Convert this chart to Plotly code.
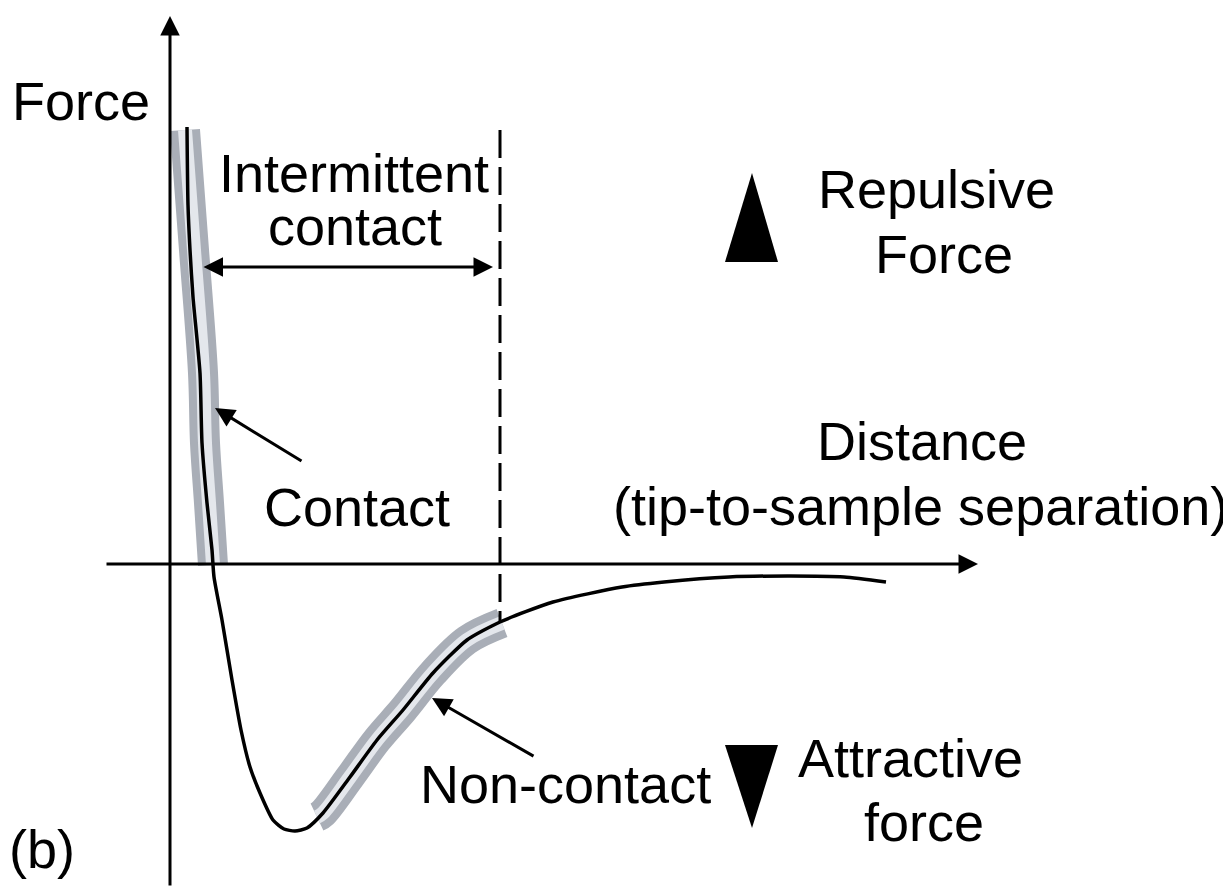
import plotly.graph_objects as go

# tip-sample distance vs force (origin at the axis crossing)
curve_d = [17, 18, 20, 23, 30, 32, 37, 42, 44, 52, 62, 71, 80, 90, 103, 114, 125, 137,
           153, 180, 207, 233, 263, 297, 330, 383, 452, 494, 559, 620, 674, 716]
curve_f = [437, 359, 314, 267, 191, 121, 61, 14, -13, -56, -116, -166, -203, -229, -256, -265, -267, -264,
           -249, -213, -176, -146, -109, -76, -58, -38, -23, -18, -13, -12, -13, -18]

# highlighted regimes
contact_d = [15, 24, 33, 35, 39, 43]
contact_f = [434, 314, 191, 121, 61, -1]
noncontact_d = [147, 153, 180, 207, 233, 263, 297, 332]
noncontact_f = [-253, -249, -213, -176, -146, -109, -76, -59]

# intermittent contact limit
limit_d = [330, 330]
limit_f = [434, -58]

BAND_GREY = '#a9aeb7'
BAND_LIGHT = '#e4e7ec'
FONT = dict(family='Liberation Sans, Arial, sans-serif', size=54, color='black')

fig = go.Figure()
for bd, bf in [(contact_d, contact_f), (noncontact_d, noncontact_f)]:
    fig.add_trace(go.Scatter(x=bd, y=bf, mode='lines', line=dict(color=BAND_GREY, width=30, shape='spline'), hoverinfo='skip'))
    fig.add_trace(go.Scatter(x=bd, y=bf, mode='lines', line=dict(color=BAND_LIGHT, width=14, shape='spline'), hoverinfo='skip'))
fig.add_trace(go.Scatter(x=limit_d, y=limit_f, mode='lines', line=dict(color='black', width=3, dash='28px,9px'), hoverinfo='skip'))
fig.add_trace(go.Scatter(x=curve_d, y=curve_f, mode='lines', line=dict(color='black', width=3.5, shape='spline', smoothing=0.6)))

# axes with arrowheads, double arrow, pointer arrows
arrows = [
    dict(x=0, y=548, ax=0, ay=-323),
    dict(x=808, y=0, ax=-65, ay=0),
    dict(x=323, y=297, ax=32, ay=297, arrowside='end+start'),
    dict(x=45, y=156, ax=133, ay=102),
    dict(x=262, y=-134, ax=365, ay=-193),
]
for a in arrows:
    fig.add_annotation(**a, xref='x', yref='y', axref='x', ayref='y', text='', showarrow=True,
                       arrowhead=2, arrowsize=1.3, arrowwidth=3, arrowcolor='black')

labels = [
    ('Force', -89, 463), ('Intermittent', 184, 391), ('contact', 185, 338),
    ('Repulsive', 766, 375), ('Force', 774, 310),
    ('Distance', 752, 123), ('(tip-to-sample separation)', 750, 58),
    ('Contact', 187, 57), ('Non-contact', 395, -220),
    ('Attractive', 740, -194), ('force', 754, -258), ('(b)', -128, -285),
]
for t, x, y in labels:
    fig.add_annotation(x=x, y=y, text=t, showarrow=False, font=FONT, xanchor='center', yanchor='middle')

# repulsive / attractive markers
fig.add_shape(type='path', path='M 555,302 L 608,302 L 582,391 Z', fillcolor='black', line=dict(width=0))
fig.add_shape(type='path', path='M 555,-181 L 608,-181 L 582,-264 Z', fillcolor='black', line=dict(width=0))

# page body has an 8px margin, so the figure is sized to fit inside the window
fig.update_layout(width=1223, height=879, margin=dict(l=0, r=0, t=0, b=0), showlegend=False,
                  paper_bgcolor='white', plot_bgcolor='white',
                  xaxis=dict(range=[-162, 1061], visible=False),
                  yaxis=dict(range=[-323, 556], visible=False))
fig.write_html("out.html")
